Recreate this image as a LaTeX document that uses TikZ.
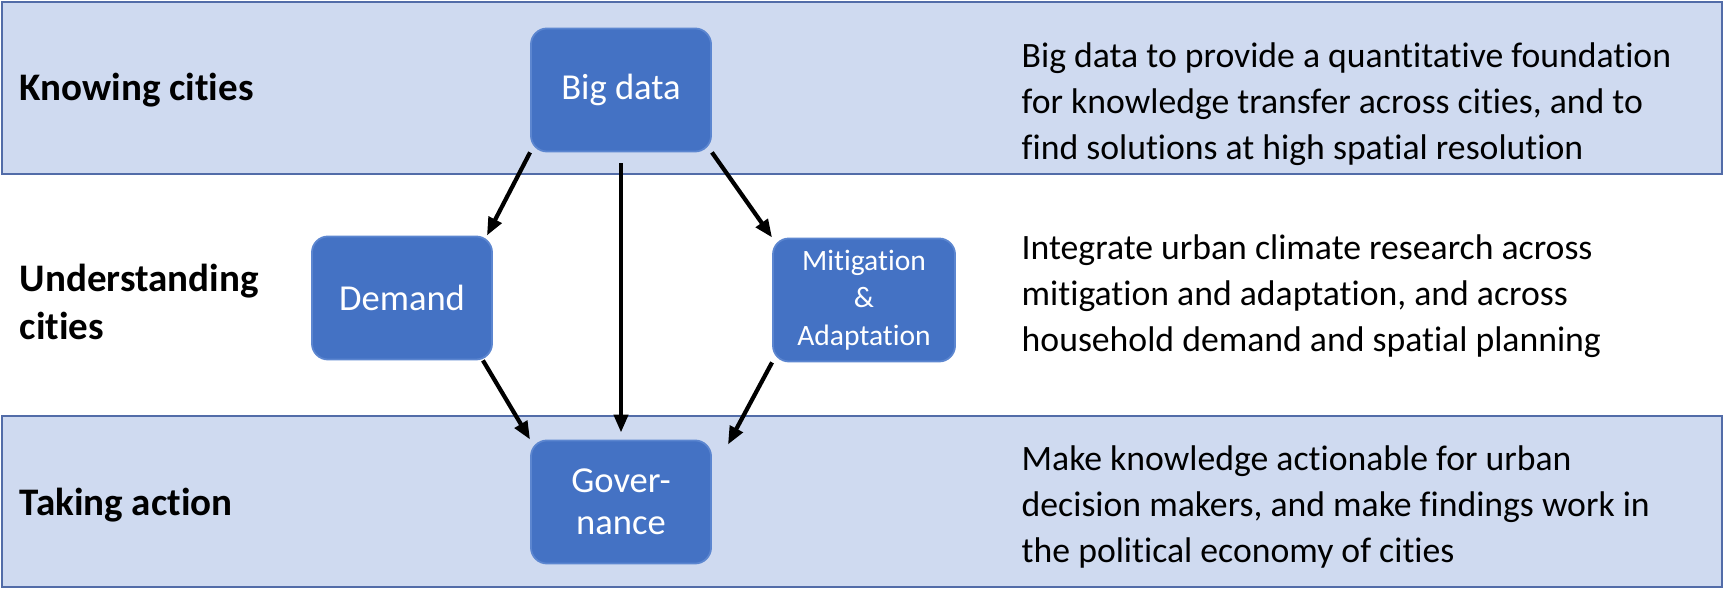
\documentclass[tikz,border=0pt]{standalone}
\usepackage{fontspec}
\setmainfont{Carlito}[Ligatures=NoCommon]
\usepackage{tikz}
\usepackage{xcolor}
\usetikzlibrary{arrows.meta, positioning, calc}
\definecolor{cBand}{RGB}{207,218,240}
\definecolor{cBandLine}{RGB}{82,108,168}
\definecolor{cBox}{RGB}{68,114,196}
\definecolor{cBoxLine}{RGB}{92,134,208}
\tikzset{
	band/.style     ={fill=cBand, draw=cBandLine, line width=0.6pt},
	blk/.style      ={rectangle, rounded corners=0.16cm, minimum width=1.8cm, minimum height=1.23cm, align=center, fill=cBox, draw=cBoxLine, line width=0.5pt, text=white, font=\fontsize{10.4}{11.8}\selectfont},
	level/.style    ={anchor=west, align=left, inner sep=0pt, font=\bfseries\fontsize{11.1}{13.4}\selectfont},
	expl/.style     ={anchor=west, align=left, inner sep=0pt, font=\fontsize{10.15}{13.1}\selectfont},
	sig/.style      ={-{Triangle[length=1.8mm, width=1.4mm]}, line width=1.2pt},
}
\begin{document}
\begin{tikzpicture}[x=0.01cm, y=-0.01cm]
	\useasboundingbox (0,0) rectangle (1725,592);
	% bands
	\filldraw[band] (2,2) rectangle (1722,174);
	\filldraw[band] (2,416) rectangle (1722,587);
	% levels
	\node[level] (know) at (19,90) {Knowing cities};
	\node[level] (under) at (19,302) {Understanding\\cities};
	\node[level] (act) at (19,505) {Taking action};
	% boxes
	\node[blk] (bigdata) at (621,90) {Big data};
	\node[blk] (demand) at (402,298) {Demand};
	\node[blk, minimum width=1.82cm, font=\fontsize{8.4}{10.6}\selectfont] (mitig) at (864,300) {Mitigation\\\&\\Adaptation};
	\node[blk] (gov) at (621,502) {Gover-\\nance};
	% explanations
	\node[expl] (knowtxt) at (1021,104) {Big data to provide a quantitative foundation\\for knowledge transfer across cities, and to\\find solutions at high spatial resolution};
	\node[expl] (undertxt) at (1021,296) {Integrate urban climate research across\\mitigation and adaptation, and across\\household demand and spatial planning};
	\node[expl] (acttxt) at (1021,507) {Make knowledge actionable for urban\\decision makers, and make findings work in\\the political economy of cities};
	% arrows
	\draw[sig] (bigdata.south west) -- ([xshift=-0.06cm]demand.north east);
	\draw[sig, shorten <=0.11cm, shorten >=0.07cm] (bigdata.south) -- (gov.north);
	\draw[sig] (bigdata.south east) -- (mitig.north west);
	\draw[sig] ([xshift=-0.1cm]demand.south east) -- (gov.north west);
	\draw[sig] (mitig.south west) -- ([xshift=0.16cm, yshift=-0.05cm]gov.north east);
\end{tikzpicture}
\end{document}
